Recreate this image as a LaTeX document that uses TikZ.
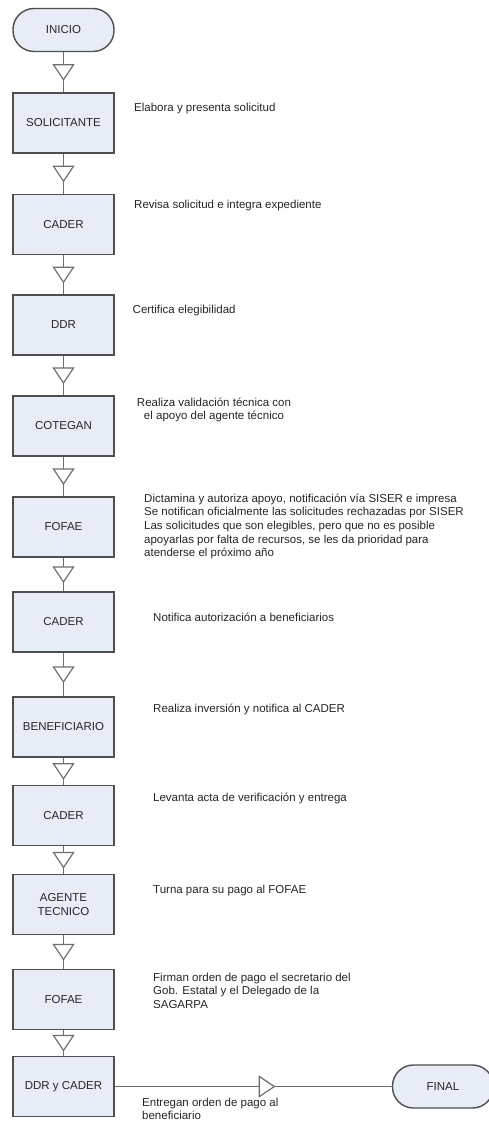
\documentclass[tikz,border=0pt]{standalone}
\usepackage{fontspec}
\setmainfont{Liberation Sans}
\usetikzlibrary{decorations.markings}
\definecolor{boxfill}{HTML}{E8ECF7}
\definecolor{boxline}{HTML}{4F4F4F}
\definecolor{conline}{HTML}{6E6E6E}
\definecolor{txt}{HTML}{262626}
\begin{document}
\begin{tikzpicture}[x=1pt,y=-1pt,
  every node/.style={font=\fontsize{11.5pt}{13.7pt}\selectfont, text=txt},
  stepbox/.style={draw=boxline, fill=boxfill, line width=1.4pt, minimum width=101pt, minimum height=60pt, inner sep=0pt, align=center},
  term/.style={draw=boxline, fill=boxfill, line width=1.4pt, rounded corners=21pt, minimum width=101pt, minimum height=43pt, inner sep=0pt},
  desc/.style={anchor=north west, inner sep=0pt, align=left},
  flow/.style={draw=conline, line width=1.4pt, postaction={decorate},
    decoration={markings, mark=at position #1 with {\draw[draw=conline, fill=white, line width=1.2pt] (7.5pt,0pt) -- (-7.5pt,10pt) -- (-7.5pt,-10pt) -- cycle;}}},
  flow/.default=0.5
]
\useasboundingbox (0,0) rectangle (489,1122);
\fill[white] (0,0) rectangle (489,1122);
\begin{scope}
\clip (0,0) rectangle (489,1122);
\node[term] (inicio) at (63.5,30) {INICIO};
\node[stepbox] (s1) at (63.5,123) {SOLICITANTE};
\node[stepbox] (s2) at (63.5,224.5) {CADER};
\node[stepbox] (s3) at (63.5,325) {DDR};
\node[stepbox] (s4) at (63.5,426) {COTEGAN};
\node[stepbox] (s5) at (63.5,527) {FOFAE};
\node[stepbox] (s6) at (63.5,622) {CADER};
\node[stepbox] (s7) at (63.5,727) {BENEFICIARIO};
\node[stepbox] (s8) at (63.5,815.5) {CADER};
\node[stepbox] (s9) at (63.5,904.5) {AGENTE\\TECNICO};
\node[stepbox] (s10) at (63.5,999.5) {FOFAE};
\node[stepbox] (s11) at (63.5,1086.5) {DDR y CADER};
\node[term] (final) at (443,1086.5) {FINAL};

\draw[flow] (inicio) -- (s1);
\draw[flow] (s1) -- (s2);
\draw[flow] (s2) -- (s3);
\draw[flow] (s3) -- (s4);
\draw[flow] (s4) -- (s5);
\draw[flow] (s5) -- (s6);
\draw[flow] (s6) -- (s7);
\draw[flow] (s7) -- (s8);
\draw[flow] (s8) -- (s9);
\draw[flow] (s9) -- (s10);
\draw[flow] (s10) -- (s11);
\draw[flow=0.549] (s11) -- (final);

\node[desc] (d1) at (134,102.5) {Elabora y presenta solicitud};
\node[desc] (d2) at (134,199.5) {Revisa solicitud e integra expediente};
\node[desc] (d3) at (132.5,304.5) {Certifica elegibilidad};
\node[anchor=north, inner sep=0pt, align=center] (d4) at (214,397.5) {Realiza validación técnica con\\el apoyo del agente técnico};
\node[desc] (d5) at (144,493.5) {Dictamina y autoriza apoyo, notificación vía SISER e impresa\\Se notifican oficialmente las solicitudes rechazadas por SISER\\Las solicitudes que son elegibles, pero que no es posible\\apoyarlas por falta de recursos, se les da prioridad para\\atenderse el próximo año};
\node[desc] (d6) at (153,612.5) {Notifica autorización a beneficiarios};
\node[desc] (d7) at (153,703.5) {Realiza inversión y notifica al CADER};
\node[desc] (d8) at (153,792.5) {Levanta acta de verificación y entrega};
\node[desc] (d9) at (153,884.5) {Turna para su pago al FOFAE};
\node[desc] (d10) at (153,972.5) {Firman orden de pago el secretario del\\Gob. Estatal y el Delegado de la\\SAGARPA};
\node[desc] (d11) at (142,1097.5) {Entregan orden de pago al\\beneficiario};
\end{scope}
\end{tikzpicture}
\end{document}
